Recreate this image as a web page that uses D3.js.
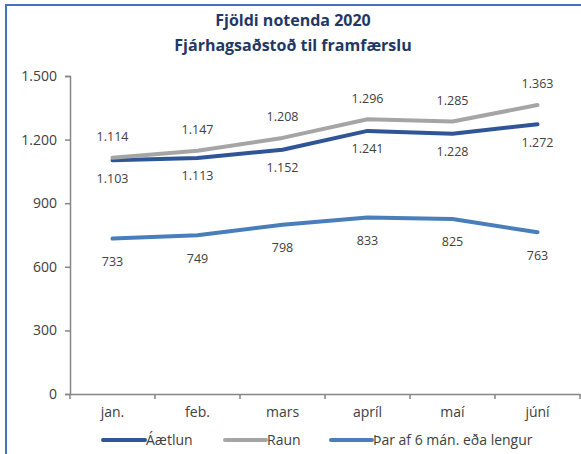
<!DOCTYPE html>
<html>
<head>
<meta charset="utf-8">
<script src="https://cdn.jsdelivr.net/npm/d3@7"></script>
<style>
  body { margin: 0; background: #fff; }
  text { font-family: "Open Sans", sans-serif; fill: #404040; }
</style>
</head>
<body>
<div id="chart"></div>
<script>
width = 581
height = 454

// data
let months = ["jan.", "feb.", "mars", "apríl", "maí", "júní"]
let aaetlun = [1103, 1113, 1152, 1241, 1228, 1272]
let raun = [1114, 1147, 1208, 1296, 1285, 1363]
let tharAf = [733, 749, 798, 833, 825, 763]
let yTicks = [0, 300, 600, 900, 1200, 1500]

let series = [
  {name: "Áætlun", values: aaetlun, color: "#2f5597", dy: 18},
  {name: "Raun", values: raun, color: "#a5a5a5", dy: -21},
  {name: "Þar af 6 mán. eða lengur", values: tharAf, color: "#4a7ebb", dy: 23}
]

let fmt = v => d3.format(",")(v).replace(/,/g, ".")

let svg = d3.select("#chart")
.append("svg")
.attr("width", width)
.attr("height", height)

// frame
svg.append("path")
.attr("d", "M6,454 L6,5 L581,5")
.attr("fill", "none")
.attr("stroke", "#4472c4")
.attr("stroke-width", 2)

// title
let title = svg.append("text")
.attr("text-anchor", "middle")
.style("font-weight", "bold")
.style("font-size", "16px")
.style("fill", "#1f3864")
title.append("tspan").attr("x", 293).attr("y", 26).text("Fjöldi notenda 2020")
title.append("tspan").attr("x", 293).attr("y", 51).text("Fjárhagsaðstoð til framfærslu")

let x = d3.scaleBand().domain(months).range([70, 580]).padding(0)
let y = d3.scaleLinear().domain([0, 1500]).range([394, 76])

// y axis
let yAxis = svg.append("g")
.attr("transform", "translate(70,0)")
.call(d3.axisLeft(y).tickValues(yTicks).tickSize(5).tickPadding(8).tickFormat(fmt))
yAxis.selectAll("path, line").attr("stroke", "#868686").attr("stroke-width", 1.5)
yAxis.selectAll("text").style("font-size", "14px").style("fill", "#404040").style("font-family", "'Open Sans', sans-serif")

// x axis
let xAxis = svg.append("g")
.attr("transform", "translate(0,394)")
.call(d3.axisBottom(x).tickSize(0).tickPadding(13))
xAxis.select(".domain").attr("stroke", "#868686").attr("stroke-width", 1.5)
xAxis.selectAll("text").style("font-size", "14px").style("fill", "#404040").style("font-family", "'Open Sans', sans-serif")

// category boundary ticks
let bounds = months.map(m => x(m)).concat([x(months[months.length - 1]) + x.bandwidth()])
svg.append("g").selectAll("line")
.data(bounds)
.join("line")
.attr("x1", d => d).attr("x2", d => d)
.attr("y1", 394).attr("y2", 399)
.attr("stroke", "#868686")
.attr("stroke-width", 1.5)

let cx = m => x(m) + x.bandwidth() / 2

let line = d3.line()
.x((d, i) => cx(months[i]))
.y(d => y(d))

// draw Þar af first, then Áætlun, then Raun on top
let drawOrder = [series[2], series[0], series[1]]
svg.append("g").selectAll("path")
.data(drawOrder)
.join("path")
.attr("d", s => line(s.values))
.attr("fill", "none")
.attr("stroke", s => s.color)
.attr("stroke-width", 4)
.attr("stroke-linecap", "round")
.attr("stroke-linejoin", "round")

// data labels
series.forEach(s => {
  svg.append("g").selectAll("text")
  .data(s.values)
  .join("text")
  .attr("x", (d, i) => cx(months[i]))
  .attr("y", d => y(d) + s.dy)
  .attr("dy", "0.35em")
  .attr("text-anchor", "middle")
  .style("font-size", "12.5px")
  .text(d => fmt(d))
})

// legend
let legendItems = [
  {s: series[0], x1: 103, x2: 145},
  {s: series[1], x1: 225, x2: 266},
  {s: series[2], x1: 331, x2: 372}
]
let legend = svg.append("g")
legendItems.forEach(item => {
  legend.append("line")
  .attr("x1", item.x1).attr("x2", item.x2)
  .attr("y1", 440).attr("y2", 440)
  .attr("stroke", item.s.color)
  .attr("stroke-width", 4)
  .attr("stroke-linecap", "round")
  legend.append("text")
  .attr("x", item.x2 + 1)
  .attr("y", 440)
  .attr("dy", "0.35em")
  .style("font-size", "14px")
  .text(item.s.name)
})
</script>
</body>
</html>
